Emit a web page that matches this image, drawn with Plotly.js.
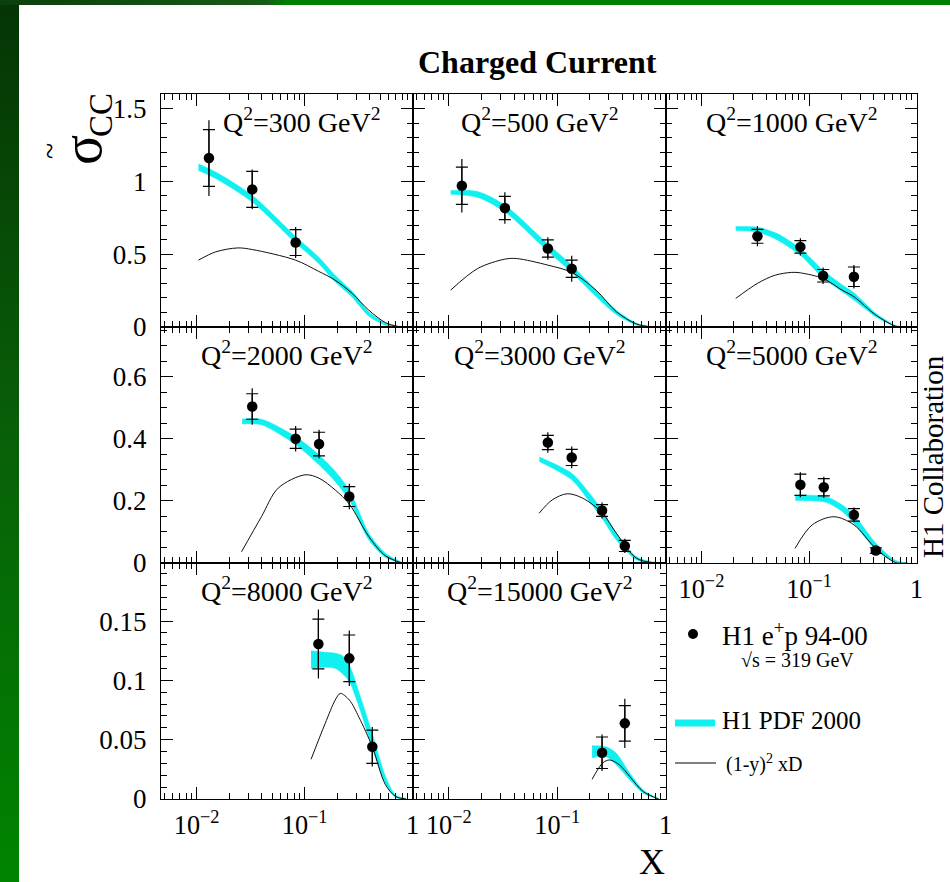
<!DOCTYPE html>
<html><head><meta charset="utf-8">
<script src="https://cdn.plot.ly/plotly-3.0.1.min.js"></script>
<style>
html,body{margin:0;padding:0;background:#fff;width:950px;height:882px;overflow:hidden;}
#left{position:absolute;left:0;top:0;width:19px;height:882px;background:linear-gradient(#053405,#086008 50%,#008400);}
#top{position:absolute;left:0;top:0;width:950px;height:5px;background:linear-gradient(90deg,#0b3f0b,#175a17 28%,#008000 30%,#008000);}
#chart{position:absolute;left:0;top:0;width:950px;height:882px;}
</style></head><body>
<div id="left"></div><div id="top"></div><div id="chart"></div>
<script>
// ---------------- data ----------------
const q2Values = [300, 500, 1000, 2000, 3000, 5000, 8000, 15000];

// H1 e+p 94-00 data points: x, sigma_CC, stat error, total error
const q300_x = [0.0130, 0.0327, 0.0825];
const q300_y = [1.16, 0.945, 0.58];
const q300_stat = [0.195, 0.124, 0.089];
const q300_tot = [0.26, 0.137, 0.106];

const q500_x = [0.0132, 0.0329, 0.0819, 0.136];
const q500_y = [0.97, 0.817, 0.539, 0.40];
const q500_stat = [0.128, 0.080, 0.059, 0.059];
const q500_tot = [0.183, 0.108, 0.077, 0.090];

const q1000_x = [0.0331, 0.083, 0.135, 0.261];
const q1000_y = [0.623, 0.55, 0.352, 0.345];
const q1000_stat = [0.048, 0.043, 0.043, 0.067];
const q1000_tot = [0.069, 0.059, 0.057, 0.080];

const q2000_x = [0.0327, 0.0825, 0.136, 0.259];
const q2000_y = [0.504, 0.40, 0.383, 0.214];
const q2000_stat = [0.041, 0.031, 0.038, 0.032];
const q2000_tot = [0.059, 0.041, 0.046, 0.041];

const q3000_x = [0.0819, 0.136, 0.259, 0.42];
const q3000_y = [0.388, 0.34, 0.169, 0.055];
const q3000_stat = [0.023, 0.026, 0.019, 0.018];
const q3000_tot = [0.033, 0.035, 0.026, 0.023];

const q5000_x = [0.083, 0.137, 0.261, 0.417];
const q5000_y = [0.252, 0.244, 0.155, 0.040];
const q5000_stat = [0.034, 0.028, 0.020, 0.009];
const q5000_tot = [0.040, 0.034, 0.024, 0.011];

const q8000_x = [0.134, 0.259, 0.423];
const q8000_y = [0.1307, 0.1186, 0.0441];
const q8000_stat = [0.021, 0.0197, 0.014];
const q8000_tot = [0.029, 0.0234, 0.0166];

const q15000_x = [0.259, 0.42];
const q15000_y = [0.039, 0.0638];
const q15000_stat = [0.0133, 0.015];
const q15000_tot = [0.0153, 0.0207];

// H1 PDF 2000 band: x, lower edge, upper edge
const pdf300_x  = [0.0104, 0.015, 0.0327, 0.0825, 0.134, 0.191, 0.275, 0.392, 0.56, 0.77];
const pdf300_lo = [1.075, 1.02, 0.858, 0.578, 0.438, 0.31, 0.205, 0.075, 0.012, 0.0];
const pdf300_hi = [1.12, 1.065, 0.904, 0.622, 0.482, 0.356, 0.245, 0.105, 0.028, 0.002];

const pdf500_x  = [0.0104, 0.0185, 0.0329, 0.0819, 0.136, 0.228, 0.351, 0.54, 0.76];
const pdf500_lo = [0.911, 0.89, 0.79, 0.52, 0.375, 0.21, 0.085, 0.012, 0.0];
const pdf500_hi = [0.938, 0.93, 0.836, 0.57, 0.425, 0.25, 0.115, 0.026, 0.002];

const pdf1000_x  = [0.0208, 0.0331, 0.05, 0.083, 0.135, 0.203, 0.261, 0.417, 0.64, 0.76];
const pdf1000_lo = [0.662, 0.652, 0.60, 0.493, 0.336, 0.242, 0.185, 0.07, 0.002, 0.0];
const pdf1000_hi = [0.69, 0.686, 0.643, 0.539, 0.39, 0.29, 0.235, 0.095, 0.01, 0.002];

const pdf2000_x  = [0.0264, 0.0398, 0.0825, 0.136, 0.192, 0.259, 0.393, 0.56, 0.80];
const pdf2000_lo = [0.448, 0.445, 0.381, 0.316, 0.262, 0.203, 0.074, 0.018, 0.0];
const pdf2000_hi = [0.464, 0.463, 0.407, 0.348, 0.295, 0.235, 0.096, 0.031, 0.002];

const pdf3000_x  = [0.0684, 0.136, 0.198, 0.259, 0.351, 0.54, 0.80];
const pdf3000_lo = [0.327, 0.268, 0.198, 0.144, 0.074, 0.010, 0.0];
const pdf3000_hi = [0.341, 0.289, 0.225, 0.171, 0.096, 0.020, 0.002];

const pdf5000_x  = [0.0745, 0.142, 0.203, 0.261, 0.417, 0.64, 0.82];
const pdf5000_lo = [0.201, 0.196, 0.166, 0.128, 0.042, 0.002, 0.0];
const pdf5000_hi = [0.219, 0.214, 0.187, 0.155, 0.064, 0.008, 0.001];

const pdf8000_x  = [0.1146, 0.144, 0.192, 0.222, 0.259, 0.318, 0.423, 0.56, 0.70, 0.87];
const pdf8000_lo = [0.110, 0.111, 0.110, 0.106, 0.099, 0.078, 0.043, 0.013, 0.001, 0.0];
const pdf8000_hi = [0.125, 0.124, 0.123, 0.121, 0.113, 0.090, 0.055, 0.019, 0.003, 0.0005];

const pdf15000_x  = [0.2096, 0.283, 0.351, 0.468, 0.622, 0.86];
const pdf15000_lo = [0.0348, 0.0357, 0.0287, 0.016, 0.0048, 0.0];
const pdf15000_hi = [0.045, 0.044, 0.0385, 0.0217, 0.0076, 0.0005];

// (1-y)^2 xD curves
const xd300_x = [0.0104, 0.015, 0.024, 0.0327, 0.0825, 0.134, 0.191, 0.275, 0.392, 0.56, 0.77];
const xd300_y = [0.459, 0.516, 0.543, 0.532, 0.459, 0.383, 0.322, 0.231, 0.116, 0.03, 0.0];

const xd500_x = [0.0104, 0.0185, 0.0329, 0.0423, 0.0819, 0.136, 0.228, 0.351, 0.54, 0.76];
const xd500_y = [0.253, 0.402, 0.466, 0.47, 0.425, 0.375, 0.253, 0.105, 0.02, 0.0];

const xd1000_x = [0.0208, 0.033, 0.0484, 0.069, 0.083, 0.135, 0.203, 0.261, 0.417, 0.64, 0.76];
const xd1000_y = [0.196, 0.299, 0.356, 0.375, 0.372, 0.333, 0.253, 0.208, 0.082, 0.005, 0.0];

const xd2000_x = [0.026, 0.0398, 0.0568, 0.1007, 0.136, 0.192, 0.259, 0.393, 0.56, 0.80];
const xd2000_y = [0.036, 0.149, 0.241, 0.284, 0.273, 0.235, 0.19, 0.085, 0.023, 0.0];

const xd3000_x = [0.068, 0.0897, 0.124, 0.171, 0.259, 0.351, 0.54, 0.80];
const xd3000_y = [0.16, 0.203, 0.223, 0.209, 0.162, 0.096, 0.015, 0.0];

const xd5000_x = [0.074, 0.107, 0.17, 0.261, 0.417, 0.64, 0.82];
const xd5000_y = [0.047, 0.123, 0.149, 0.123, 0.047, 0.001, 0.0];

const xd8000_x = [0.1146, 0.155, 0.192, 0.214, 0.259, 0.318, 0.423, 0.56, 0.70, 0.87];
const xd8000_y = [0.0335, 0.0638, 0.0835, 0.089, 0.0835, 0.069, 0.044, 0.012, 0.002, 0.0];

const xd15000_x = [0.2096, 0.264, 0.304, 0.376, 0.468, 0.622, 0.86];
const xd15000_y = [0.0166, 0.0306, 0.0329, 0.0287, 0.0188, 0.0062, 0.0];

// axis tick settings per row
const rowYRange = [[0, 1.6], [0, 0.76], [0, 0.199]];
const rowYDtick = [0.5, 0.2, 0.05];
const rowYMinor = [0.1, 0.05, 0.01];

// ---------------- build ----------------
const panels = [
  {d:[q300_x,q300_y,q300_stat,q300_tot], b:[pdf300_x,pdf300_lo,pdf300_hi], c:[xd300_x,xd300_y]},
  {d:[q500_x,q500_y,q500_stat,q500_tot], b:[pdf500_x,pdf500_lo,pdf500_hi], c:[xd500_x,xd500_y]},
  {d:[q1000_x,q1000_y,q1000_stat,q1000_tot], b:[pdf1000_x,pdf1000_lo,pdf1000_hi], c:[xd1000_x,xd1000_y]},
  {d:[q2000_x,q2000_y,q2000_stat,q2000_tot], b:[pdf2000_x,pdf2000_lo,pdf2000_hi], c:[xd2000_x,xd2000_y]},
  {d:[q3000_x,q3000_y,q3000_stat,q3000_tot], b:[pdf3000_x,pdf3000_lo,pdf3000_hi], c:[xd3000_x,xd3000_y]},
  {d:[q5000_x,q5000_y,q5000_stat,q5000_tot], b:[pdf5000_x,pdf5000_lo,pdf5000_hi], c:[xd5000_x,xd5000_y]},
  {d:[q8000_x,q8000_y,q8000_stat,q8000_tot], b:[pdf8000_x,pdf8000_lo,pdf8000_hi], c:[xd8000_x,xd8000_y]},
  {d:[q15000_x,q15000_y,q15000_stat,q15000_tot], b:[pdf15000_x,pdf15000_lo,pdf15000_hi], c:[xd15000_x,xd15000_y]}
];

const W = 950, H = 882;
const colPx = [[161, 413], [413, 666], [666, 917]];
const rowPx = [[94, 327], [327, 563], [563, 799]];
const FONT = 'Liberation Serif';
const CYAN = '#10f0f0';

const traces = [];
const layout = {
  width: W, height: H,
  margin: {l: 0, r: 0, t: 0, b: 0},
  paper_bgcolor: 'rgba(0,0,0,0)',
  plot_bgcolor: '#ffffff',
  showlegend: false,
  font: {family: FONT, color: '#000'},
  annotations: [],
  shapes: []
};

panels.forEach((p, i) => {
  const row = Math.floor(i / 3), col = i % 3;
  const n = i + 1;
  const xa = 'x' + (n === 1 ? '' : n), ya = 'y' + (n === 1 ? '' : n);
  const xk = 'xaxis' + (n === 1 ? '' : n), yk = 'yaxis' + (n === 1 ? '' : n);
  layout[xk] = {
    type: 'log', range: [-2.33, 0.003], dtick: 1,
    domain: [colPx[col][0] / W, colPx[col][1] / W],
    anchor: ya,
    ticks: 'inside', ticklen: 12, tickwidth: 1, tickcolor: '#000',
    minor: {ticks: 'inside', ticklen: 6, tickwidth: 1, tickcolor: '#000', dtick: 'D1', showgrid: false},
    showline: true, linecolor: '#000', linewidth: 1, mirror: 'allticks',
    showgrid: false, zeroline: false,
    exponentformat: 'power',
    showticklabels: (row === 2 || i === 5),
    tickfont: {family: FONT, size: 21, color: '#000'},
    ticklabelstandoff: 4
  };
  layout[yk] = {
    range: rowYRange[row], dtick: rowYDtick[row], tick0: 0,
    domain: [1 - rowPx[row][1] / H, 1 - rowPx[row][0] / H],
    anchor: xa,
    ticks: 'inside', ticklen: 12, tickwidth: 1, tickcolor: '#000',
    minor: {ticks: 'inside', ticklen: 6, tickwidth: 1, tickcolor: '#000', dtick: rowYMinor[row], showgrid: false},
    showline: true, linecolor: '#000', linewidth: 1, mirror: 'allticks',
    showgrid: false, zeroline: false,
    showticklabels: col === 0,
    tickfont: {family: FONT, size: 27, color: '#000'},
    ticklabelstandoff: 8
  };
  // band
  traces.push({x: p.b[0], y: p.b[1], xaxis: xa, yaxis: ya, type: 'scatter', mode: 'lines',
    line: {color: CYAN, width: 0.5, shape: 'spline', smoothing: 0.8}, hoverinfo: 'skip'});
  traces.push({x: p.b[0], y: p.b[2], xaxis: xa, yaxis: ya, type: 'scatter', mode: 'lines', fill: 'tonexty',
    fillcolor: CYAN, line: {color: CYAN, width: 0.5, shape: 'spline', smoothing: 0.8}, hoverinfo: 'skip'});
  // (1-y)^2 xD
  traces.push({x: p.c[0], y: p.c[1], xaxis: xa, yaxis: ya, type: 'scatter', mode: 'lines',
    line: {color: '#111', width: 1, shape: 'spline', smoothing: 0.9}});
  // total errors
  traces.push({x: p.d[0], y: p.d[1], xaxis: xa, yaxis: ya, type: 'scatter', mode: 'markers',
    marker: {size: 1, color: 'rgba(0,0,0,0)'},
    error_y: {type: 'data', array: p.d[3], visible: true, color: '#000', thickness: 1.2, width: 0}});
  // stat errors + markers
  traces.push({x: p.d[0], y: p.d[1], xaxis: xa, yaxis: ya, type: 'scatter', mode: 'markers',
    marker: {size: 10.5, color: '#000'},
    error_y: {type: 'data', array: p.d[2], visible: true, color: '#000', thickness: 1.2, width: 6}});

  // panel label
  const cx = (i === 0 ? 302 : (colPx[col][0] + colPx[col][1]) / 2);
  const cy = rowPx[row][0] + 26;
  layout.annotations.push({
    xref: 'paper', yref: 'paper', x: cx / W, y: 1 - cy / H, xanchor: 'center', yanchor: 'middle',
    text: 'Q<sup>2</sup>=' + q2Values[i] + ' GeV<sup>2</sup>', showarrow: false,
    font: {family: FONT, size: 28, color: '#000'}
  });
});

function ann(px, py, text, size, extra) {
  layout.annotations.push(Object.assign({
    xref: 'paper', yref: 'paper', x: px / W, y: 1 - py / H, xanchor: 'center', yanchor: 'middle',
    text: text, showarrow: false, font: {family: FONT, size: size, color: '#000'}
  }, extra || {}));
}

// title
ann(537, 62, '<b>Charged Current</b>', 32);
// y title: sigma-tilde CC
ann(82, 150, 'σ', 56, {textangle: -90});
ann(101, 115, 'CC', 33, {textangle: -90});
ann(50, 151, '~', 30, {textangle: -90});
// x title
ann(652, 862, 'X', 36);
// collaboration
ann(933, 457, 'H1 Collaboration', 29, {textangle: -90});

// legend
layout.shapes.push({type: 'circle', xref: 'paper', yref: 'paper',
  x0: 688 / W, x1: 698 / W, y0: 1 - 639 / H, y1: 1 - 629 / H, fillcolor: '#000', line: {width: 0}});
ann(720, 634, 'H1 e<sup>+</sup>p 94-00', 27, {xanchor: 'left'});
ann(797, 660, '√s = 319 GeV', 20);
layout.shapes.push({type: 'line', xref: 'paper', yref: 'paper',
  x0: 675 / W, x1: 715 / W, y0: 1 - 723 / H, y1: 1 - 723 / H, line: {color: CYAN, width: 7}});
ann(720, 720, 'H1 PDF 2000', 25, {xanchor: 'left'});
layout.shapes.push({type: 'line', xref: 'paper', yref: 'paper',
  x0: 675 / W, x1: 716 / W, y0: 1 - 763 / H, y1: 1 - 763 / H, line: {color: '#000', width: 1}});
ann(724, 763, '(1-y)<sup>2</sup> xD', 20, {xanchor: 'left'});

Plotly.newPlot('chart', traces, layout, {staticPlot: true, displayModeBar: false});
</script></body></html>
